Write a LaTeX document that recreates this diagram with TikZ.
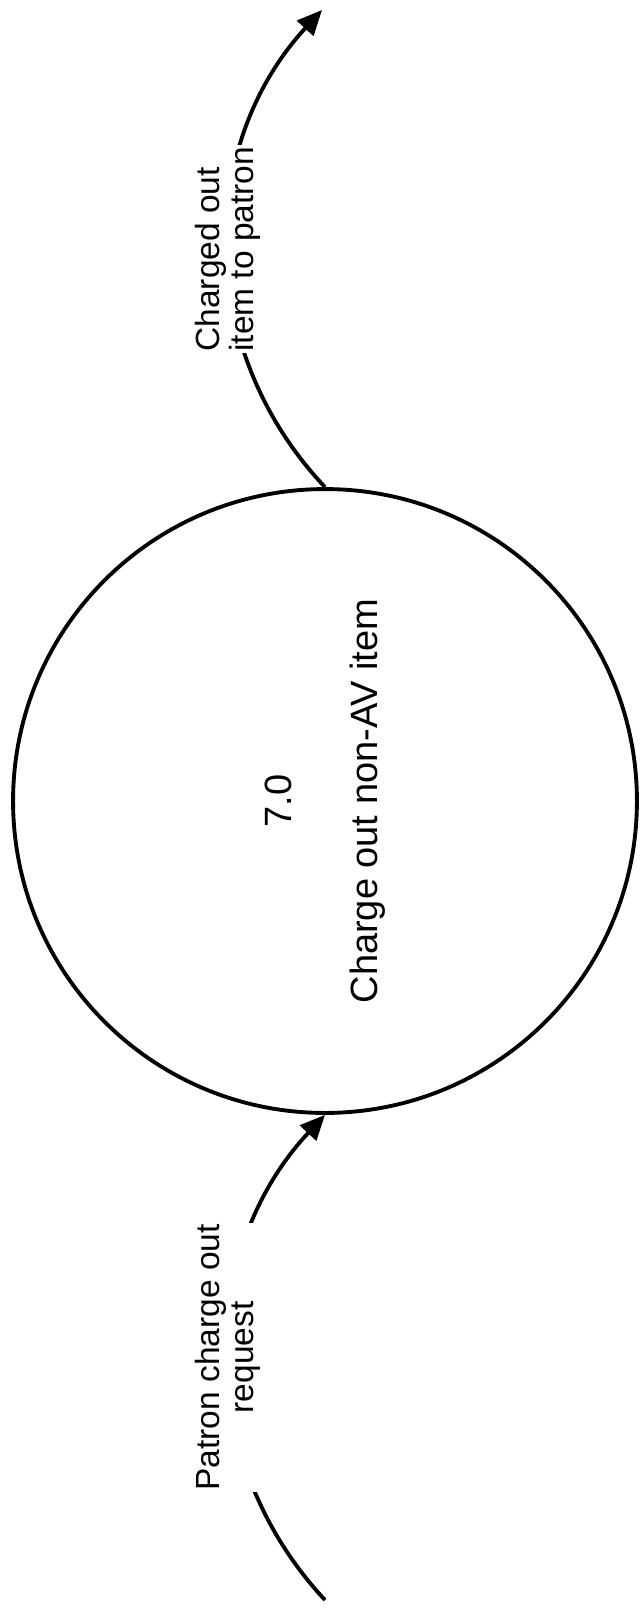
\documentclass[tikz,border=0pt]{standalone}
\usepackage{fontspec}
\setmainfont{Liberation Sans}
\usetikzlibrary{arrows.meta}
\tikzset{
  flow/.style={line width=2.2pt, -{Triangle[length=0.5cm,width=0.44cm]}},
  proc/.style={circle, draw, line width=2.2pt, minimum size=12.48cm, inner sep=0pt,
    align=center, font=\fontsize{0.76cm}{0.86cm}\selectfont},
  lbl/.style={fill=white, inner sep=1pt, rotate=90,
    font=\fontsize{0.67cm}{0.68cm}\selectfont}
}

\begin{document}
\begin{tikzpicture}[x=0.02cm,y=-0.02cm]
  \useasboundingbox (0,0) rectangle (640,1619);
  % process bubble
  \node[proc, rotate=90] (p7) at (325,801) {7.0\\[0.86cm]Charge out non-AV item};
  % free ends of the flows
  \coordinate (itemout) at (322,10);
  \coordinate (patronin) at (325,1600);
  \draw[flow] (p7.east) to[bend left=43]
    node[lbl, align=left] (lblout) {Charged out\\item to patron} (itemout);
  \draw[flow] (patronin) to[bend left=43]
    node[lbl, align=center] (lblin) {Patron charge out\\request} (p7.west);
\end{tikzpicture}
\end{document}
